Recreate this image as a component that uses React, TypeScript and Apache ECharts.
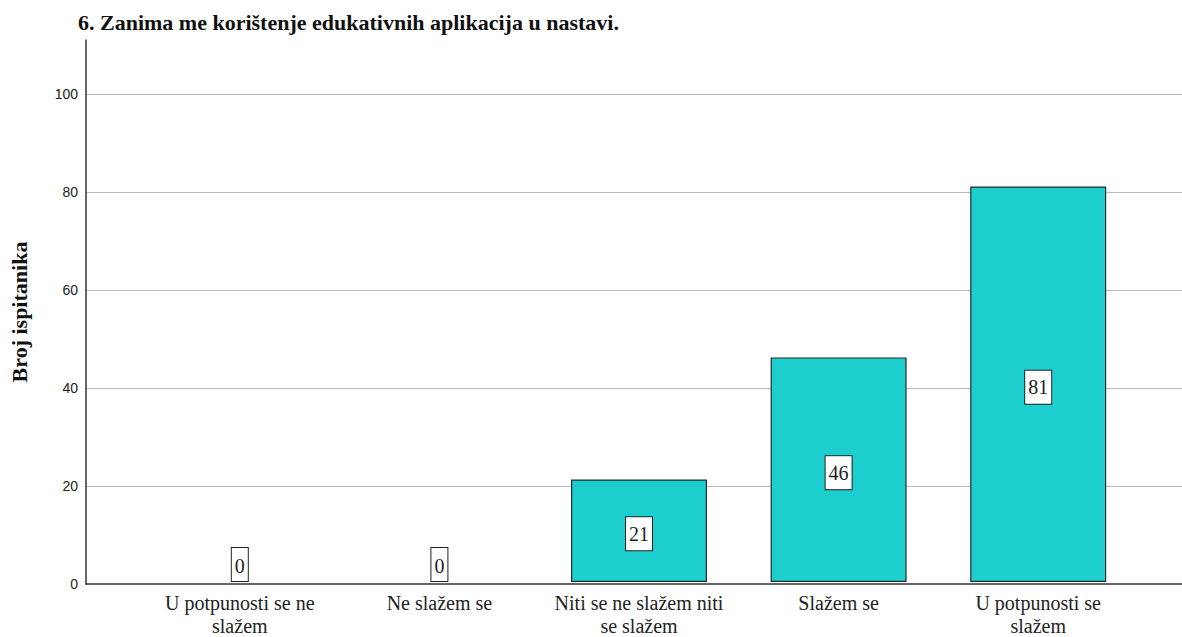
import React, { useEffect, useRef } from "react";
import * as echarts from "echarts";

const titleText = "6. Zanima me korištenje edukativnih aplikacija u nastavi.";
const yAxisName = "Broj ispitanika";
const categories = [
  "U potpunosti se ne\nslažem",
  "Ne slažem se",
  "Niti se ne slažem niti\nse slažem",
  "Slažem se",
  "U potpunosti se\nslažem",
];
const counts = [0, 0, 21, 46, 81];
const yMin = 0;
const yMax = 111;
const yInterval = 20;

const SERIF = "'Liberation Serif', 'Times New Roman', serif";

export default function App() {
  const ref = useRef<HTMLDivElement>(null);
  useEffect(() => {
    if (!ref.current) return;
    const chart = echarts.init(ref.current, undefined, { renderer: "svg" });
    const top = 40;
    const bottom = 53;
    chart.setOption({
      animation: false,
      backgroundColor: "#ffffff",
      title: {
        text: titleText,
        left: 73,
        top: 6,
        textStyle: {
          fontFamily: SERIF,
          fontWeight: "bold",
          fontSize: 22,
          color: "#111",
        },
      },
      grid: [
        { left: 84, right: 0, top, bottom },
        { left: 140, right: 44, top, bottom },
      ],
      xAxis: [
        {
          type: "value",
          gridIndex: 0,
          min: 0,
          max: 1,
          axisLine: { show: true, onZero: false, lineStyle: { color: "#333", width: 1.5 } },
          axisTick: { show: false },
          axisLabel: { show: false },
          splitLine: { show: false },
        },
        {
          type: "category",
          gridIndex: 1,
          data: categories,
          axisLine: { show: false },
          axisTick: { show: false },
          axisLabel: {
            interval: 0,
            fontFamily: SERIF,
            fontSize: 20,
            lineHeight: 23,
            color: "#222",
            margin: 9,
          },
        },
      ],
      yAxis: [
        {
          type: "value",
          gridIndex: 0,
          min: yMin,
          max: yMax,
          interval: yInterval,
          name: yAxisName,
          nameLocation: "middle",
          nameGap: 56,
          nameTextStyle: {
            fontFamily: SERIF,
            fontWeight: "bold",
            fontSize: 22,
            color: "#111",
          },
          axisLine: { show: true, lineStyle: { color: "#333", width: 1.5 } },
          axisTick: { show: false },
          axisLabel: {
            showMaxLabel: false,
            fontFamily: "'Liberation Sans', Arial, sans-serif",
            fontSize: 14,
            color: "#222",
            margin: 8,
          },
          splitLine: {
            show: true,
            showMaxLine: false,
            showMinLine: false,
            lineStyle: { color: "#bbbbbb", width: 1 },
          },
        },
        {
          type: "value",
          gridIndex: 1,
          min: yMin,
          max: yMax,
          interval: yInterval,
          show: false,
          splitLine: { show: false },
        },
      ],
      series: [
        {
          type: "bar",
          xAxisIndex: 1,
          yAxisIndex: 1,
          barWidth: 136,
          itemStyle: { color: "#1dcece", borderColor: "#2a2a2a", borderWidth: 1.2 },
          data: counts.map((v) => ({
            value: v,
            itemStyle: v === 0 ? { borderWidth: 0, color: "rgba(0,0,0,0)" } : undefined,
            label:
              v === 0
                ? { position: "top", distance: 1 }
                : { position: "inside", offset: [0, 3] },
          })),
          label: {
            show: true,
            fontFamily: SERIF,
            fontSize: 20,
            color: "#222",
            backgroundColor: "#ffffff",
            borderColor: "#222",
            borderWidth: 1,
            padding: [8, 3, 5, 3],
          },
        },
      ],
    });
    return () => chart.dispose();
  }, []);
  return (
    <div
      ref={ref}
      style={{ position: "fixed", left: 0, top: 0, width: 1182, height: 637 }}
    />
  );
}
